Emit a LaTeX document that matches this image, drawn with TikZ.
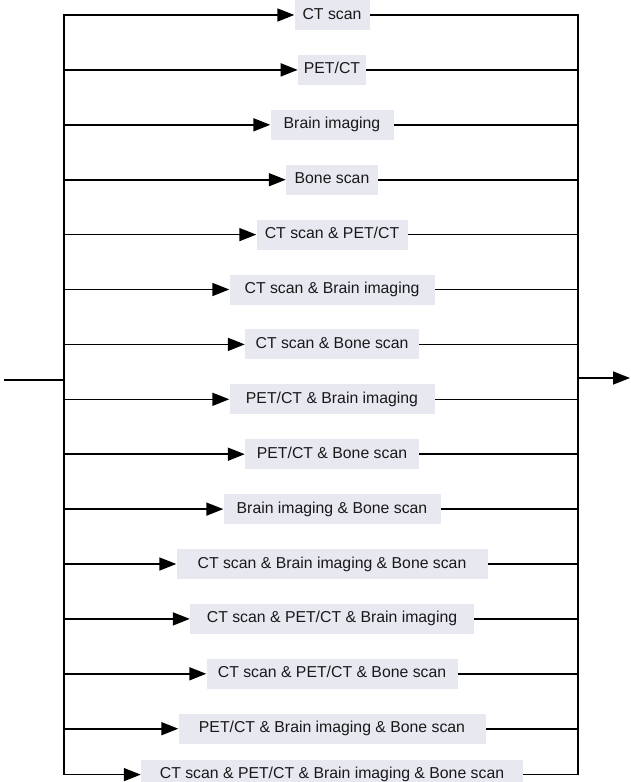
\documentclass[tikz,border=0pt]{standalone}
\usepackage{fontspec}
\setmainfont{Liberation Sans}
\usetikzlibrary{arrows.meta,positioning}
\usepackage{xcolor}
\definecolor{boxlav}{RGB}{232,232,241}
\definecolor{lineblack}{RGB}{0,0,0}
\definecolor{textdark}{RGB}{25,25,25}

\begin{document}
\begin{tikzpicture}[
  x=1pt, y=1pt,
  node distance=24.5pt,
  opt/.style={rectangle, fill=boxlav, text=textdark, inner xsep=6pt, minimum height=30pt, text height=11.5pt, text depth=3.5pt, font=\fontsize{15.8}{18}\selectfont},
  wire/.style={draw=lineblack, line width=1.6pt, line cap=rect},
  arr/.style={wire, -{Triangle[length=17pt, width=13pt]}}
]
\useasboundingbox (0,0) rectangle (630,-782);

\coordinate (busL) at (64,0);
\coordinate (busR) at (578,0);
\coordinate (src) at (5,-380);
\coordinate (snk) at (630,-378);

\node[opt, minimum width=75pt] (o1) at (332,-15) {CT scan};
\node[opt, minimum width=67pt, below=of o1] (o2) {PET/CT};
\node[opt, minimum width=123pt, below=of o2] (o3) {Brain imaging};
\node[opt, minimum width=92pt, below=of o3] (o4) {Bone scan};
\node[opt, minimum width=151pt, below=of o4] (o5) {CT scan \& PET/CT};
\node[opt, minimum width=205pt, below=of o5] (o6) {CT scan \& Brain imaging};
\node[opt, minimum width=174pt, below=of o6] (o7) {CT scan \& Bone scan};
\node[opt, minimum width=205pt, below=of o7] (o8) {PET/CT \& Brain imaging};
\node[opt, minimum width=174pt, below=of o8] (o9) {PET/CT \& Bone scan};
\node[opt, minimum width=217pt, below=of o9] (o10) {Brain imaging \& Bone scan};
\node[opt, minimum width=311pt, below=of o10] (o11) {CT scan \& Brain imaging \& Bone scan};
\node[opt, minimum width=284pt, below=of o11] (o12) {CT scan \& PET/CT \& Brain imaging};
\node[opt, minimum width=251pt, below=of o12] (o13) {CT scan \& PET/CT \& Bone scan};
\node[opt, minimum width=307pt, below=of o13] (o14) {PET/CT \& Brain imaging \& Bone scan};
\node[opt, minimum width=382pt, below=15.5pt of o14] (o15) {CT scan \& PET/CT \& Brain imaging \& Bone scan};

% split and join
\draw[wire] (busL |- o1) -- (busL |- o15);
\draw[wire] (busR |- o1) -- (busR |- o15);
\draw[wire] (src) -- (src -| busL);
\draw[arr] (snk -| busR) -- (snk);

\foreach \i in {1,...,15} {
  \draw[arr] (busL |- o\i) -- (o\i.west);
  \draw[wire] ([xshift=1pt]o\i.east) -- (busR |- o\i);
}
\end{tikzpicture}
\end{document}
